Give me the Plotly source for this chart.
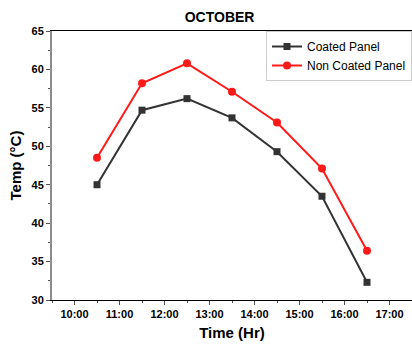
import plotly.graph_objects as go

# Hour of day (decimal) for each reading
hours = [10.5, 11.5, 12.5, 13.5, 14.5, 15.5, 16.5]
coated = [45.0, 54.7, 56.2, 53.7, 49.3, 43.5, 32.3]
non_coated = [48.5, 58.2, 60.8, 57.1, 53.1, 47.1, 36.4]

tick_hours = [10, 11, 12, 13, 14, 15, 16, 17]
tick_labels = ["10:00", "11:00", "12:00", "13:00", "14:00", "15:00", "16:00", "17:00"]
y_ticks = [30, 35, 40, 45, 50, 55, 60, 65]

FONT = "Liberation Sans, Arial, sans-serif"

fig = go.Figure()
fig.add_trace(go.Scatter(
    x=hours, y=coated, name="Coated Panel", mode="lines+markers",
    line=dict(color="#333333", width=2),
    marker=dict(symbol="square", size=7, color="#333333"),
))
fig.add_trace(go.Scatter(
    x=hours, y=non_coated, name="Non Coated Panel", mode="lines+markers",
    line=dict(color="#ff1a1a", width=2),
    marker=dict(symbol="circle", size=8, color="#ff1a1a"),
))

fig.update_layout(
    width=412, height=347,
    margin=dict(l=52, r=0, t=31, b=47),
    paper_bgcolor="white", plot_bgcolor="white",
    font=dict(family=FONT, color="black"),
    title=dict(text="<b>OCTOBER</b>", x=0.533, xanchor="center",
               y=0.952, yanchor="middle", font=dict(size=14)),
    showlegend=True,
    legend=dict(x=1.0, y=1.0, xanchor="right", yanchor="top",
                bgcolor="white", bordercolor="#cccccc", borderwidth=1,
                font=dict(size=12), tracegroupgap=0,
                itemwidth=30),
    xaxis=dict(
        range=[9.5, 17.5], tickvals=tick_hours,
        ticktext=[f"<b>{t}</b>" for t in tick_labels],
        showgrid=False, zeroline=False,
        showline=True, linecolor="black", linewidth=1, mirror=True,
        ticks="outside", ticklen=4, tickcolor="#555555",
        minor=dict(ticks="outside", ticklen=2, dtick=0.5, tick0=9.5, tickcolor="#555555"),
        tickfont=dict(size=11, family=FONT),
        title=dict(text="<b>Time (Hr)</b>", font=dict(size=15), standoff=8),
    ),
    yaxis=dict(
        range=[30, 65], tickvals=y_ticks,
        ticktext=[f"<b>{v}</b>" for v in y_ticks],
        showgrid=False, zeroline=False,
        showline=True, linecolor="#8c8c8c", linewidth=2,
        ticks="outside", ticklen=4, tickcolor="#555555",
        minor=dict(ticks="outside", ticklen=2, dtick=2.5, tick0=30, tickcolor="#555555"),
        tickfont=dict(size=11, family=FONT),
        title=dict(text="<b>Temp (°C)</b>", font=dict(size=15), standoff=6),
    ),
)

fig.write_html("out.html")
